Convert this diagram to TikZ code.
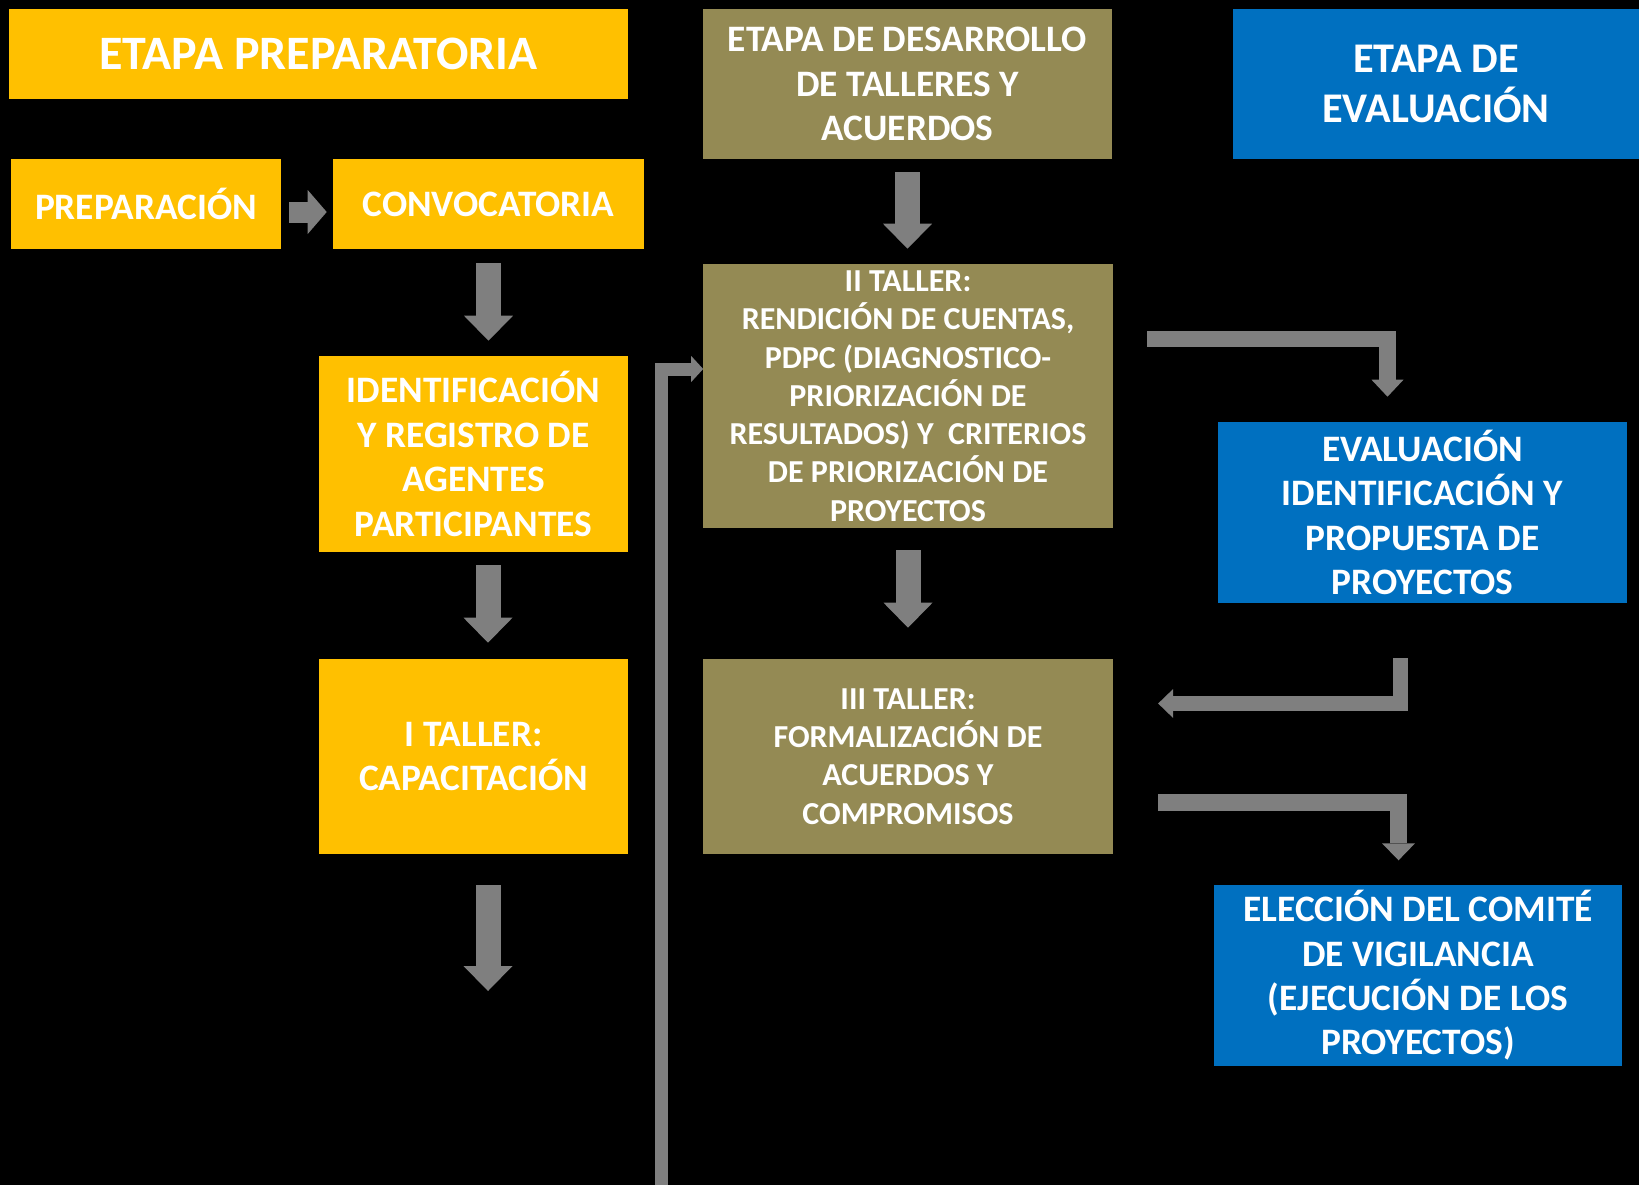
\documentclass[tikz,border=0pt]{standalone}
\usepackage{fontspec}
\setmainfont{Carlito}
\usepackage{tikz}
\usetikzlibrary{arrows.meta}

\definecolor{amarillo}{HTML}{FFC000}
\definecolor{oliva}{HTML}{948A54}
\definecolor{azul}{HTML}{0070C0}
\definecolor{gris}{HTML}{7F7F7F}

\newcommand{\letratitulo}{\fontsize{36}{42}\selectfont\bfseries}
\newcommand{\letraetapa}{\fontsize{31.7}{37.5}\selectfont\bfseries}
\newcommand{\letracaja}{\fontsize{28}{33.5}\selectfont\bfseries}
\newcommand{\letrataller}{\fontsize{24}{28.7}\selectfont\bfseries}

\tikzset{
  caja/.style={rectangle, inner sep=0pt, align=center, text=white, font=\letracaja},
  cajaam/.style={caja, fill=amarillo},
  cajaol/.style={caja, fill=oliva},
  cajaaz/.style={caja, fill=azul},
  flecha/.style={draw=gris, line width=18.75pt,
    -{Triangle[width=36.75pt,length=18.75pt,line width=0pt]}},
  codo/.style={draw=gris, line join=miter}
}

\begin{document}
\begin{tikzpicture}[x=0.75pt,y=-0.75pt]
  \useasboundingbox (0,0) rectangle (1639,1185);
  \fill[black] (0,0) rectangle (1639,1185);

  % etapas
  \node[cajaam, font=\letratitulo, minimum width=464.3pt, minimum height=66.8pt] (prepT) at (318.5,54) {ETAPA PREPARATORIA};
  \node[cajaol, minimum width=306.8pt, minimum height=111.8pt] (desT) at (907.5,84) {ETAPA DE DESARROLLO\\DE TALLERES Y\\ACUERDOS};
  \node[cajaaz, font=\letraetapa, minimum width=304.5pt, minimum height=111.8pt] (evalT) at (1436,84) {ETAPA DE\\EVALUACIÓN};

  % preparatoria
  \node[cajaam, minimum width=201.8pt, minimum height=67.5pt] (prep) at (146,204) {PREPARACIÓN};
  \node[cajaam, minimum width=233.3pt, minimum height=67.5pt] (conv) at (488.5,204) {CONVOCATORIA};
  \node[cajaam, minimum width=231.8pt, minimum height=147pt] (ident) at (473.5,454) {IDENTIFICACIÓN\\Y REGISTRO DE\\AGENTES\\PARTICIPANTES};
  \node[cajaam, minimum width=231.8pt, minimum height=146.3pt] (taller1) at (473.5,756.5) {I TALLER:\\CAPACITACIÓN};

  % talleres
  \node[cajaol, font=\letrataller, minimum width=306.8pt, minimum height=198pt] (taller2) at (908,396) {II TALLER:\\RENDICIÓN DE CUENTAS,\\PDPC (DIAGNOSTICO-\\PRIORIZACIÓN DE\\RESULTADOS) Y\ \ CRITERIOS\\DE PRIORIZACIÓN DE\\PROYECTOS};
  \node[cajaol, font=\letrataller, minimum width=306.8pt, minimum height=146.3pt] (taller3) at (908,756.5) {III TALLER:\\FORMALIZACIÓN DE\\ACUERDOS Y\\COMPROMISOS};

  % evaluacion
  \node[cajaaz, font=\fontsize{28}{33.2}\selectfont\bfseries, minimum width=306.8pt, minimum height=135.8pt] (evalP) at (1422.5,512.5) {EVALUACIÓN\\IDENTIFICACIÓN Y\\PROPUESTA DE\\PROYECTOS};
  \node[cajaaz, font=\fontsize{28}{33.2}\selectfont\bfseries, minimum width=306pt, minimum height=135.8pt] (elec) at (1418,975.5) {ELECCIÓN DEL COMITÉ\\DE VIGILANCIA\\(EJECUCIÓN DE LOS\\PROYECTOS)};

  \coordinate (fin1) at (488,991);
  \coordinate (inicio) at (661.5,1185);

  %prep>conv
  \draw[draw=gris, line width=15.75pt, -{Triangle[width=33pt,length=14.25pt,line width=0pt]},
        shorten <=6.4pt, shorten >=4.5pt] ([yshift=-6pt]prep.east) -- ([yshift=-6pt]conv.west);

  %conv>ident>taller1
  \draw[flecha, shorten <=10.5pt, shorten >=11.25pt] (conv.south) -- (conv.south |- ident.north);
  \draw[flecha, shorten <=9.75pt, shorten >=12pt] (fin1 |- ident.south) -- (fin1 |- taller1.north);
  \draw[flecha, shorten <=23.25pt] (fin1 |- taller1.south) -- (fin1);

  %desT>taller2>taller3
  \draw[flecha, shorten <=10pt, shorten >=11.25pt] (desT.south) -- (desT.south |- taller2.north);
  \draw[flecha, shorten <=16.5pt, shorten >=23.25pt] (taller2.south) -- (taller3.north);

  %inicio>taller2
  \draw[codo, line width=9.75pt, -{Triangle[width=19.5pt,length=9pt,line width=0pt]}]
        (inicio) |- ([yshift=20.25pt]taller2.west);

  %taller2>evalP
  \draw[codo, line width=12.4pt, -{Triangle[width=24pt,length=12.75pt,line width=0pt]},
        shorten <=26pt, shorten >=18.75pt] ([yshift=42.75pt]taller2.east) -| ([xshift=-26.25pt]evalP.north);

  %evalP>taller3
  \draw[codo, line width=11.25pt, -{Triangle[width=21.75pt,length=11.25pt,line width=0pt]},
        shorten <=41.25pt, shorten >=34pt] ([xshift=-16.5pt]evalP.south) |- ([yshift=39.75pt]taller3.east);

  %taller3>elec
  \draw[codo, line width=12.75pt, -{Triangle[width=24.75pt,length=12.75pt,line width=0pt]},
        shorten <=34pt, shorten >=18.3pt] ([yshift=-34.5pt]taller3.east) -| ([xshift=-14.6pt]elec.north);
\end{tikzpicture}
\end{document}
